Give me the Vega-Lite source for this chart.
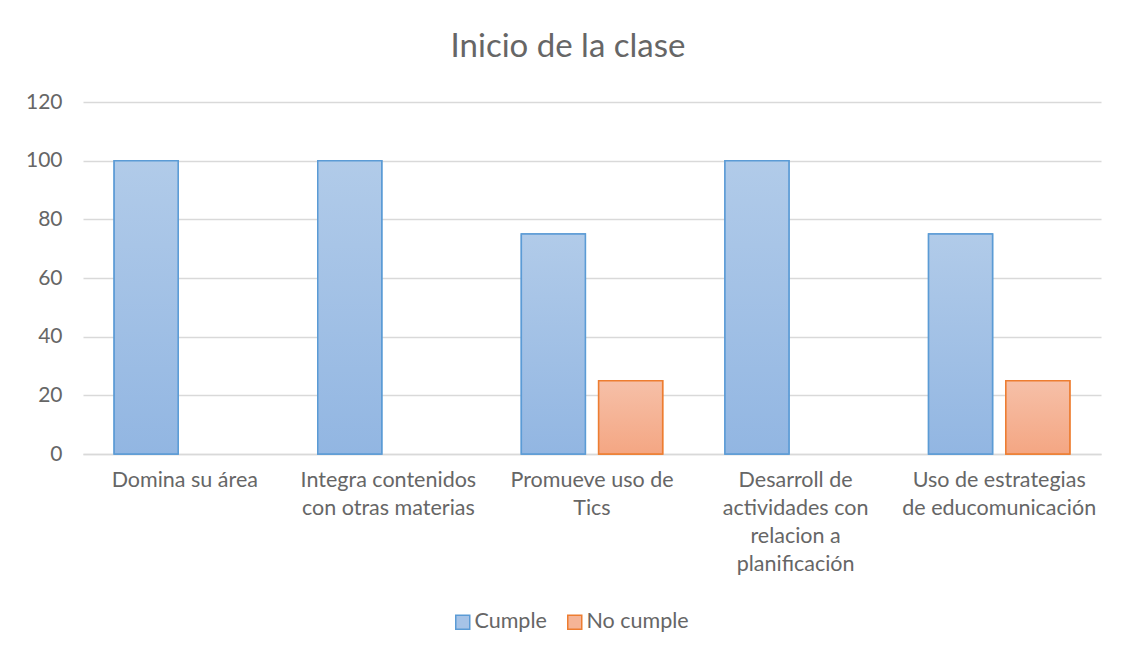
{
  "$schema": "https://vega.github.io/schema/vega-lite/v6.json",
  "width": 1018,
  "height": 352,
  "autosize": {"type": "none"},
  "padding": {"left": 83, "top": 102, "right": 27, "bottom": 199},
  "background": "white",
  "title": {
    "text": "Inicio de la clase",
    "fontSize": 33,
    "fontWeight": "normal",
    "font": "Lato",
    "color": "#666666",
    "anchor": "middle",
    "frame": "group",
    "baseline": "alphabetic",
    "offset": 1,
    "dx": -24
  },
  "data": {
    "values": [
      {"criterio": "Domina su área", "serie": "Cumple", "valor": 100},
      {"criterio": "Domina su área", "serie": "No cumple", "valor": 0},
      {"criterio": "Integra contenidos con otras materias", "serie": "Cumple", "valor": 100},
      {"criterio": "Integra contenidos con otras materias", "serie": "No cumple", "valor": 0},
      {"criterio": "Promueve uso de Tics", "serie": "Cumple", "valor": 75},
      {"criterio": "Promueve uso de Tics", "serie": "No cumple", "valor": 25},
      {"criterio": "Desarroll de actividades con relacion a planificación", "serie": "Cumple", "valor": 100},
      {"criterio": "Desarroll de actividades con relacion a planificación", "serie": "No cumple", "valor": 0},
      {"criterio": "Uso de estrategias de educomunicación", "serie": "Cumple", "valor": 75},
      {"criterio": "Uso de estrategias de educomunicación", "serie": "No cumple", "valor": 25}
    ]
  },
  "transform": [{"filter": "datum.valor > 0"}],
  "encoding": {
    "x": {
      "field": "criterio",
      "type": "nominal",
      "sort": null,
      "scale": {"paddingInner": 0.306, "paddingOuter": 0.153},
      "axis": {
        "title": null,
        "labelAngle": 0,
        "labelFontSize": 21.5,
        "labelFont": "Lato",
        "labelColor": "#666666",
        "labelPadding": 15,
        "labelLineHeight": 28,
        "labelBaseline": "top",
        "labelLimit": 0,
        "ticks": false,
        "domain": true,
        "domainColor": "#d9d9d9",
        "domainWidth": 1.5,
        "labelExpr": "datum.label == 'Integra contenidos con otras materias' ? ['Integra contenidos', 'con otras materias'] : datum.label == 'Promueve uso de Tics' ? ['Promueve uso de', 'Tics'] : datum.label == 'Desarroll de actividades con relacion a planificación' ? ['Desarroll de', 'actividades con', 'relacion a', 'planificación'] : datum.label == 'Uso de estrategias de educomunicación' ? ['Uso de estrategias', 'de educomunicación'] : datum.label"
      }
    },
    "xOffset": {
      "field": "serie",
      "type": "nominal",
      "sort": ["Cumple", "No cumple"],
      "scale": {"domain": ["Cumple", "No cumple"], "paddingInner": 0.172, "paddingOuter": 0}
    },
    "y": {
      "field": "valor",
      "type": "quantitative",
      "scale": {"domain": [0, 120], "nice": false},
      "axis": {
        "title": null,
        "values": [0, 20, 40, 60, 80, 100, 120],
        "labelFontSize": 21,
        "labelFont": "Lato",
        "labelColor": "#666666",
        "labelPadding": 21,
        "ticks": false,
        "domain": false,
        "gridColor": "#d9d9d9",
        "gridWidth": 1.5
      }
    }
  },
  "layer": [
    {
      "mark": {"type": "bar", "strokeWidth": 1.5},
      "encoding": {
        "fill": {
          "field": "serie",
          "type": "nominal",
          "scale": {"domain": ["Cumple", "No cumple"], "range": ["#a6c3e7", "#f5b497"]},
          "legend": {
            "title": null,
            "orient": "none",
            "direction": "horizontal",
            "legendX": 369,
            "legendY": 509,
            "symbolType": "square",
            "symbolSize": 196,
            "symbolStrokeWidth": 1.5,
            "symbolOpacity": 1,
            "labelFontSize": 21.5,
            "labelFont": "Lato",
            "labelColor": "#666666",
            "labelOffset": 1,
            "columnPadding": 17
          }
        },
        "stroke": {
          "field": "serie",
          "type": "nominal",
          "scale": {"domain": ["Cumple", "No cumple"], "range": ["#5b9bd5", "#ed7d31"]},
          "legend": {
            "title": null,
            "orient": "none",
            "direction": "horizontal",
            "legendX": 369,
            "legendY": 509,
            "symbolType": "square",
            "symbolSize": 196,
            "symbolStrokeWidth": 1.5,
            "symbolOpacity": 1,
            "labelFontSize": 21.5,
            "labelFont": "Lato",
            "labelColor": "#666666",
            "labelOffset": 1,
            "columnPadding": 17
          }
        }
      }
    },
    {
      "mark": {"type": "bar", "strokeWidth": 1.5},
      "encoding": {
        "fill": {
          "condition": {
            "test": "datum.serie == 'Cumple'",
            "value": {"gradient": "linear", "x1": 0, "y1": 0, "x2": 0, "y2": 1, "stops": [{"offset": 0, "color": "#b1cbe9"}, {"offset": 1, "color": "#92b6e2"}]}
          },
          "value": {"gradient": "linear", "x1": 0, "y1": 0, "x2": 0, "y2": 1, "stops": [{"offset": 0, "color": "#f6c0a8"}, {"offset": 1, "color": "#f4a683"}]}
        },
        "stroke": {
          "condition": {"test": "datum.serie == 'Cumple'", "value": "#5b9bd5"},
          "value": "#ed7d31"
        }
      }
    }
  ],
  "config": {"view": {"stroke": null}, "font": "Lato"}
}
